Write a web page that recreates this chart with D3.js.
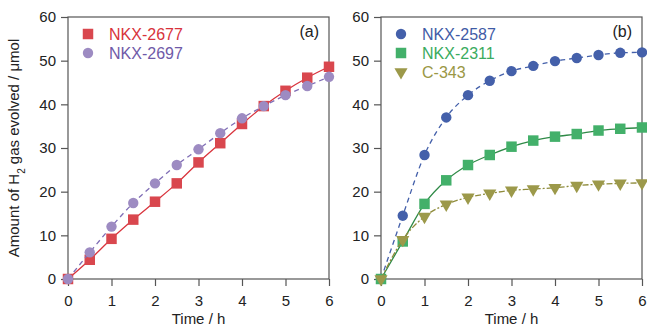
<!DOCTYPE html>
<html>
<head>
<meta charset="utf-8">
<script src="https://cdn.jsdelivr.net/npm/d3@7"></script>
<style>
body { margin: 0; background: #fff; }
svg text { font-family: "Liberation Sans", Arial, sans-serif; }
</style>
</head>
<body>
<svg width="647" height="326"></svg>
<script>
var time = [0, 0.5, 1, 1.5, 2, 2.5, 3, 3.5, 4, 4.5, 5, 5.5, 6];
var xTicks = [0, 1, 2, 3, 4, 5, 6];
var yTicks = [0, 10, 20, 30, 40, 50, 60];

var nkx2677 = [0, 4.4, 9.2, 13.6, 17.7, 21.9, 26.7, 31.1, 35.5, 39.6, 43.1, 46.1, 48.6];
var nkx2697 = [0, 6.1, 12.0, 17.4, 21.9, 26.1, 29.7, 33.4, 36.8, 39.6, 42.1, 44.2, 46.3];
var nkx2587 = [0, 14.5, 28.4, 37.0, 42.1, 45.4, 47.6, 48.8, 49.9, 50.6, 51.3, 51.8, 51.9];
var nkx2311 = [0, 8.6, 17.2, 22.6, 26.1, 28.4, 30.3, 31.7, 32.6, 33.2, 34.0, 34.4, 34.7];
var c343 = [0, 9.0, 14.3, 17.1, 18.7, 19.6, 20.3, 20.6, 20.9, 21.4, 21.7, 21.9, 22.0];

var panels = [
  { label: "(a)", left: 68, right: 329, series: [
    { name: "NKX-2677", values: nkx2677, marker: "square", fill: "#d9474e", line: "#d9343d", text: "#d8333b", dash: null },
    { name: "NKX-2697", values: nkx2697, marker: "circle", fill: "#9d8bc2", line: "#7f6db5", text: "#6f5aa8", dash: "5,4" }
  ]},
  { label: "(b)", left: 381, right: 642, series: [
    { name: "NKX-2587", values: nkx2587, marker: "circle", fill: "#4460aa", line: "#4460aa", text: "#3f5ba6", dash: "5,4" },
    { name: "NKX-2311", values: nkx2311, marker: "square", fill: "#43b06a", line: "#2f8a47", text: "#3aab60", dash: null },
    { name: "C-343", values: c343, marker: "triangle", fill: "#9c994a", line: "#8f8c3c", text: "#9a9745", dash: "6,2,2,2" }
  ]}
];

var svg = d3.select("svg");
var plotTop = 17, plotBottom = 279;
var y = d3.scaleLinear().domain([0, 60]).range([plotBottom, plotTop]);

var symbols = {
  square: d3.symbol().type(d3.symbolSquare).size(110),
  circle: d3.symbol().type(d3.symbolCircle).size(85),
  triangle: d3.symbol().type(d3.symbolTriangle).size(75)
};

panels.forEach(function (p) {
  var x = d3.scaleLinear().domain([0, 6]).range([p.left, p.right]);
  var g = svg.append("g");

  // frame
  g.append("rect")
    .attr("x", p.left).attr("y", plotTop)
    .attr("width", p.right - p.left).attr("height", plotBottom - plotTop)
    .attr("fill", "none").attr("stroke", "#555").attr("stroke-width", 1.2);

  var xAxis = g.append("g")
    .attr("transform", "translate(0," + plotBottom + ")")
    .call(d3.axisBottom(x).tickValues(xTicks).tickSize(7).tickPadding(9).tickFormat(d3.format("d")));
  var yAxis = g.append("g")
    .attr("transform", "translate(" + p.left + ",0)")
    .call(d3.axisLeft(y).tickValues(yTicks).tickSize(7).tickPadding(5));
  [xAxis, yAxis].forEach(function (a) {
    a.select(".domain").remove();
    a.selectAll("line").attr("stroke", "#555").attr("stroke-width", 1.2);
    a.selectAll("text").attr("font-size", 15).attr("fill", "#222")
      .style("font-family", "'Liberation Sans', Arial, sans-serif");
  });

  g.append("text")
    .attr("x", (p.left + p.right) / 2).attr("y", 324)
    .attr("text-anchor", "middle").attr("font-size", 15).attr("fill", "#222")
    .text("Time / h");

  g.append("text")
    .attr("x", p.right - 10).attr("y", 37)
    .attr("text-anchor", "end").attr("font-size", 16).attr("fill", "#222")
    .text(p.label);

  var line = d3.line()
    .x(function (d, i) { return x(time[i]); })
    .y(function (d) { return y(d); })
    .curve(d3.curveMonotoneX);

  p.series.forEach(function (s, k) {
    g.append("path")
      .attr("d", line(s.values))
      .attr("fill", "none").attr("stroke", s.line).attr("stroke-width", 1.3)
      .attr("stroke-dasharray", s.dash);

    g.selectAll(null)
      .data(s.values)
      .enter()
      .append("path")
      .attr("d", symbols[s.marker])
      .attr("transform", function (d, i) {
        var r = s.marker === "triangle" ? 180 : 0;
        return "translate(" + x(time[i]) + "," + y(d) + ") rotate(" + r + ")";
      })
      .attr("fill", s.fill);

    var ly = 34 + k * 19;
    var lx = p.left + 20;
    g.append("path")
      .attr("d", symbols[s.marker])
      .attr("transform", "translate(" + lx + "," + ly + ") rotate(" + (s.marker === "triangle" ? 180 : 0) + ")")
      .attr("fill", s.fill);
    g.append("text")
      .attr("x", lx + 21).attr("y", ly + 6)
      .attr("font-size", 16).attr("fill", s.text)
      .text(s.name);
  });
});

// y axis title
svg.append("text")
  .attr("transform", "translate(19," + ((plotTop + plotBottom) / 2) + ") rotate(-90)")
  .attr("text-anchor", "middle").attr("font-size", 15).attr("fill", "#222")
  .html("Amount of H<tspan baseline-shift='sub' font-size='10'>2</tspan> gas evolved / μmol");
</script>
</body>
</html>
